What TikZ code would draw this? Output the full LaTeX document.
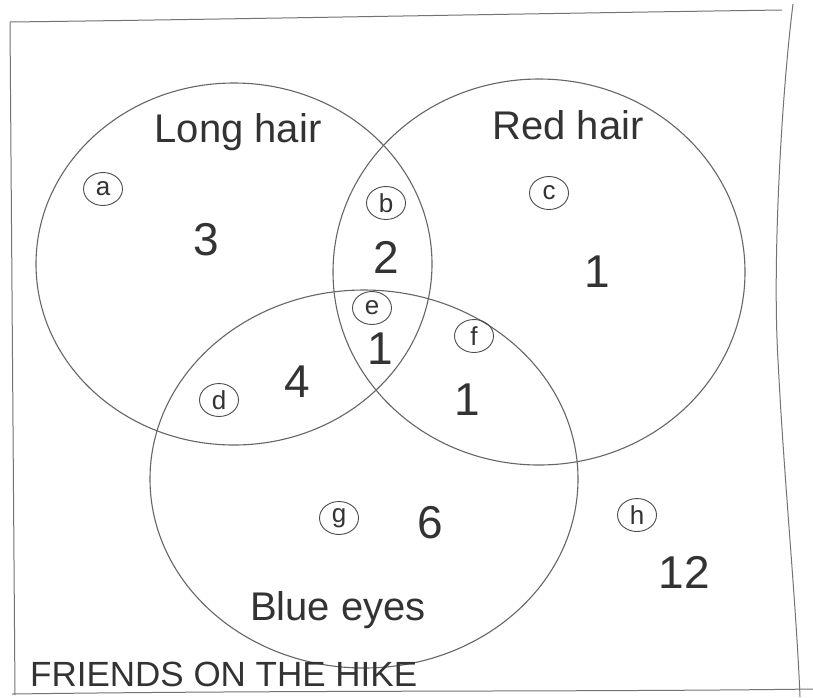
\documentclass[tikz,border=0pt]{standalone}
\usepackage{fontspec}
\setmainfont{Liberation Sans}
\usetikzlibrary{shapes.geometric}
\begin{document}
\begin{tikzpicture}[x=1pt,y=-1pt,
  pen/.style={draw=black!60, line width=1.1pt},
  framepen/.style={draw=black!55, line width=1pt},
  setlabel/.style={text=black!80, anchor=base, font=\fontsize{40}{44}\selectfont},
  count/.style={text=black!80, font=\fontsize{46}{50}\selectfont},
  tag/.style={ellipse, draw=black!70, line width=0.9pt, minimum width=39pt, minimum height=33pt, inner sep=0pt, text=black!80, font=\fontsize{26}{28}\selectfont},
  title/.style={text=black!80, font=\fontsize{35}{38}\selectfont, anchor=base west, inner sep=0pt}]
\useasboundingbox (0,0) rectangle (813,697);
\fill[white] (0,0) rectangle (813,697);
% frame
\draw[framepen] (10,22) .. controls (250,19) and (500,14) .. (782,10);
\draw[framepen] (793,4) .. controls (782,90) and (772,260) .. (778,360) .. controls (784,480) and (796,600) .. (800,697);
\draw[framepen] (10,22) -- (15,695);
\draw[framepen] (12,694) .. controls (300,690) and (600,692) .. (813,689);
% sets
\draw[pen] (234,264) ellipse [x radius=198, y radius=181];
\draw[pen] (539,272) ellipse [x radius=206, y radius=193];
\draw[pen] (364,479) ellipse [x radius=214, y radius=189];
% set labels
\node[setlabel] (long) at (238,142) {Long hair};
\node[setlabel] (red) at (568,139) {Red hair};
\node[setlabel] (blue) at (338,620) {Blue eyes};
% region tags
\node[tag] (a) at (103,189) {a};
\node[tag] (b) at (386,203) {b};
\node[tag] (c) at (549,193) {c};
\node[tag] (d) at (219,400) {d};
\node[tag] (e) at (372,308) {e};
\node[tag] (f) at (474,336) {f};
\node[tag] (g) at (339,518) {g};
\node[tag] (h) at (637,515) {h};
% counts
\node[count] (n3) at (206,240) {3};
\node[count] (n2) at (386,257) {2};
\node[count] (n1e) at (380,349) {1};
\node[count] (n4) at (297,382) {4};
\node[count] (n1c) at (597,272) {1};
\node[count] (n1f) at (467,400) {1};
\node[count] (n6) at (430,523) {6};
\node[count] (n12) at (684,572) {12};
% caption
\node[title] (cap) at (30,686) {FRIENDS ON THE HIKE};
\end{tikzpicture}
\end{document}
